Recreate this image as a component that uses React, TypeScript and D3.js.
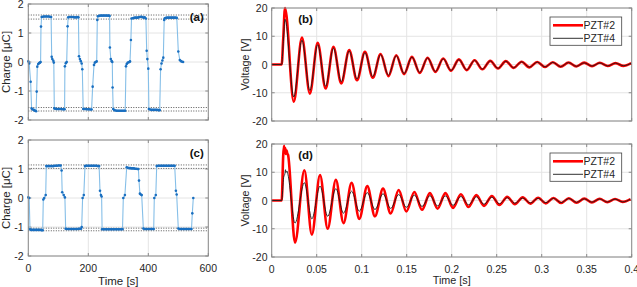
import React from "react";
import * as d3 from "d3";

const FONT = '"Liberation Sans", Arial, Helvetica, sans-serif';

// ---- charge data (time [s], charge [uC]) ----
const chargeA: [number, number][] = [
  [0, 0.02], [3, -0.05], [7.8, -0.68], [11, -1.6], [14, -1.63], [17, -1.65], [20, -1.66], [23, -1.68], [26, -1.7],
  [28, -1.02], [30, -0.16], [33, -0.07], [36, -0.04], [39, -0.02], [41, 0], [42.3, 1.22], [44.5, 1.55], [48, 1.56],
  [52, 1.57], [56, 1.57], [60, 1.57], [64, 1.57], [68, 1.57], [72, 1.56], [76, 1.55], [78, 0.18], [80, 0.1],
  [83.5, 0.04], [85, -0.02], [86.7, -1.6], [90, -1.61], [94, -1.62], [98, -1.62], [102, -1.62], [106, -1.62],
  [110, -1.62], [114, -1.63], [118, -1.63], [121, -1.63], [122, -0.15], [125, -0.04], [128, 0], [131, 1.23],
  [133, 1.54], [137, 1.55], [141, 1.55], [145, 1.55], [149, 1.55], [153, 1.54], [157, 1.54], [161, 1.54], [165, 1.55],
  [167, 1.54], [169, 0.2], [172, 0.1], [175, 0.03], [178, -0.05], [180, -0.25], [183, -1.62], [187, -1.62],
  [191, -1.62], [195, -1.63], [199, -1.63], [203, -1.63], [207, -1.64], [211, -1.64], [214.5, -0.85], [219, -0.1],
  [222, -0.02], [225, 0], [228, 0.02], [230, 1.45], [232, 1.58], [236, 1.59], [240, 1.6], [244, 1.6], [248, 1.6],
  [252, 1.6], [256, 1.6], [260, 1.6], [264, 1.6], [268, 1.6], [271, 1.59], [272, 0.5], [275, 0.1], [278, 0.03],
  [280, 0], [281, -0.88], [283, -1.62], [287, -1.66], [291, -1.67], [295, -1.68], [299, -1.68], [303, -1.68],
  [307, -1.68], [311, -1.68], [315, -1.68], [319, -1.68], [323, -1.68], [325.6, -0.15], [328, -0.07], [331, -0.03],
  [334, -0.01], [337, 0], [339, 0.02], [342, 0.76], [344, 1.5], [348, 1.51], [352, 1.52], [356, 1.53], [360, 1.53],
  [364, 1.53], [368, 1.54], [372, 1.55], [376, 1.56], [380, 1.55], [384, 1.53], [388, 1.54], [392, 1.5],
  [394.6, 0.39], [396.8, 0.1], [400, -0.23], [402, -1.62], [406, -1.64], [410, -1.65], [414, -1.65], [418, -1.65],
  [422, -1.65], [426, -1.65], [430, -1.65], [434, -1.66], [438, -1.66], [441, -0.25], [444, -0.05], [447, 0.05],
  [450, 0.15], [453, 1.45], [455, 1.51], [459, 1.52], [463, 1.53], [467, 1.53], [471, 1.53], [475, 1.53],
  [479, 1.53], [483, 1.53], [487, 1.53], [491, 1.53], [495, 1.52], [500, 0.36], [505, 0.07], [509, 0.03],
  [513, 0.01], [516, 0],
];

const chargeC: [number, number][] = [
  [0, 0.02], [3, 0], [5.6, -1.08], [9, -1.1], [13, -1.1], [17, -1.1], [21, -1.1], [25, -1.1], [29, -1.1], [33, -1.1],
  [37, -1.1], [41, -1.1], [45, -1.11], [48, -1.11], [50, -0.05], [53, 0], [58, 0.1], [60, 1.1], [64, 1.1], [68, 1.1],
  [72, 1.1], [76, 1.1], [80, 1.1], [84, 1.1], [88, 1.11], [92, 1.11], [96, 1.11], [100, 1.12], [104, 1.12],
  [108, 1.12], [111, 0.95], [113, 0.2], [118, 0.1], [122, 0.02], [124.5, -1.06], [128, -1.07], [132, -1.07],
  [136, -1.07], [140, -1.07], [144, -1.07], [148, -1.07], [152, -1.07], [156, -1.07], [160, -1.07], [164, -1.07],
  [168, -1.06], [172, -1.06], [176, -1.06], [178, -1.0], [181, 0], [185, 0.1], [189, 1.1], [192, 1.11], [196, 1.11],
  [200, 1.11], [204, 1.11], [208, 1.11], [212, 1.11], [216, 1.11], [220, 1.11], [224, 1.11], [228, 1.11], [232, 1.1],
  [236, 1.1], [239, 0.25], [242, 0.1], [244.4, 0.05], [246, -1.08], [250, -1.08], [254, -1.08], [258, -1.08],
  [262, -1.08], [266, -1.08], [270, -1.08], [274, -1.08], [278, -1.08], [282, -1.08], [286, -1.08], [290, -1.08],
  [294, -1.08], [298, -1.08], [302, -1.08], [306, -1.08], [310, -1.08], [314, -1.08], [316.7, 0], [322, 0.1],
  [328, 1.06], [332, 1.04], [336, 1.03], [340, 1.03], [344, 1.02], [348, 1.02], [352, 1.02], [356, 1.01], [360, 1.01],
  [364, 1.0], [367, 1.0], [369, 0.6], [372, 0.15], [375, 0.12], [378, 0.1], [383.5, -1.05], [387, -1.07],
  [391, -1.07], [395, -1.07], [399, -1.07], [403, -1.07], [407, -1.07], [411, -1.07], [415, -1.07], [418, -1.07],
  [420, 0], [425, 0.1], [428, 1.1], [432, 1.11], [436, 1.11], [440, 1.11], [444, 1.11], [448, 1.11], [452, 1.11],
  [456, 1.11], [460, 1.11], [464, 1.11], [468, 1.11], [472, 1.11], [476, 1.11], [480, 1.11], [484, 1.11],
  [488, 1.11], [492, 0.25], [494.6, 0.12], [500, -1.05], [504, -1.07], [508, -1.07], [512, -1.07], [516, -1.07],
  [520, -1.07], [524, -1.07], [528, -1.07], [532, -1.07], [536, -1.07], [540, -1.07], [544, -1.07],
  [546.7, -0.53], [550, 0],
];

const levelsA = [1.62, 1.48, -1.57, -1.69];
const levelsC = [1.14, 1.02, -1.04, -1.13];

// ---- voltage data: lead-in points, then alternating peak/trough times and values ----
const leadB: [number, number][] = [[0, 0], [0.0111, 0], [0.0128, 9]];
const leadBblack: [number, number][] = [[0, 0], [0.0111, 0], [0.0128, 7.5]];
const extTimesB = [
  0.0148, 0.0245, 0.0336, 0.0424, 0.0511, 0.0599, 0.0686, 0.0773, 0.0861, 0.0948, 0.1036, 0.1123, 0.121, 0.1297,
  0.1384, 0.1471, 0.1558, 0.1645, 0.1732, 0.1819, 0.1906, 0.1993, 0.208, 0.2167, 0.2254, 0.2341, 0.2428, 0.2515,
  0.2602, 0.2689, 0.2776, 0.2863, 0.295, 0.3037, 0.3124, 0.3211, 0.3298, 0.3385, 0.3472, 0.3559, 0.3646, 0.3733,
  0.382, 0.3907, 0.3994,
];
const pzt2B = [
  20, -13.2, 9.5, -10.3, 7.7, -8.5, 6.3, -6.7, 5.1, -5.6, 4.5, -4.7, 3.7, -4.1, 3.3, -3.4, 2.7, -3.0, 2.4, -2.6,
  2.1, -2.2, 1.8, -2.0, 1.5, -1.7, 1.3, -1.4, 1.2, -1.2, 1.0, -1.0, 0.9, -0.9, 0.8, -0.8, 0.7, -0.7, 0.65, -0.6,
  0.6, -0.55, 0.5, -0.5, 0.5,
];
const pzt4B = [
  16, -11.5, 8.6, -9.2, 7.0, -7.7, 5.8, -6.1, 4.8, -5.1, 4.2, -4.3, 3.5, -3.8, 3.1, -3.2, 2.6, -2.8, 2.3, -2.5,
  2.0, -2.1, 1.7, -1.9, 1.45, -1.6, 1.25, -1.35, 1.15, -1.15, 0.95, -0.95, 0.85, -0.85, 0.75, -0.75, 0.7, -0.65,
  0.6, -0.55, 0.55, -0.5, 0.5, -0.45, 0.45,
];

const leadDred: [number, number][] = [
  [0, 0], [0.0111, 0], [0.0128, 16], [0.0137, 19.4], [0.0143, 16.8], [0.015, 18.6], [0.0157, 16.5],
  [0.0165, 17.8], [0.0173, 16.6], [0.0181, 16.2],
];
const leadDblack: [number, number][] = [
  [0, 0], [0.0111, 0], [0.0133, 8.2], [0.0147, 9.6], [0.0153, 10.9], [0.0158, 9.9], [0.017, 10.4], [0.018, 9.3],
];
const extTimesD = [
  0.0259, 0.0363, 0.0446, 0.0537, 0.0622, 0.0713, 0.0798, 0.0888, 0.0973, 0.1062, 0.1147, 0.1237, 0.1322, 0.1411,
  0.1496, 0.1585, 0.167, 0.1758, 0.1843, 0.193, 0.2015, 0.2102, 0.2187, 0.2274, 0.2359, 0.2446, 0.2531, 0.2617,
  0.2702, 0.2789, 0.2874, 0.296, 0.3045, 0.3131, 0.3216, 0.3302, 0.3387, 0.3473, 0.3558, 0.3644, 0.3729, 0.3815,
  0.39, 0.3986,
];
const pzt2D = [
  -14.9, 10.7, -12.1, 9.0, -10.0, 7.3, -8.0, 6.3, -6.5, 5.1, -5.6, 4.2, -4.6, 3.7, -3.9, 3.0, -3.3, 2.6, -2.9,
  2.6, -2.6, 2.2, -2.3, 1.9, -1.9, 1.6, -1.6, 1.3, -1.3, 1.1, -1.1, 1.0, -1.0, 0.9, -0.9, 0.8, -0.8, 0.7, -0.7,
  0.6, -0.6, 0.55, -0.5, 0.5,
];
const pzt4D = [
  -8.0, 6.3, -6.5, 5.1, -5.6, 4.2, -4.5, 3.3, -3.8, 2.8, -3.2, 2.4, -2.8, 2.1, -2.4, 1.9, -2.1, 1.7, -1.9,
  1.6, -1.7, 1.4, -1.5, 1.3, -1.3, 1.15, -1.15, 1.0, -1.0, 0.9, -0.9, 0.8, -0.8, 0.75, -0.75, 0.7, -0.65, 0.6,
  -0.6, 0.55, -0.55, 0.5, -0.5, 0.45,
];

const chargeTicks = [-2, -1, 0, 1, 2];
const timeTicksSlow = [0, 200, 400, 600];
const voltTicks = [-20, -10, 0, 10, 20];
const timeTicksFast = [0, 0.05, 0.1, 0.15, 0.2, 0.25, 0.3, 0.35, 0.4];
const legendNames = ["PZT#2", "PZT#4"];

const BOX = "#8a8a8a";
const GRID = "#e4e4e4";
const TEXT = "#262626";

const series = (lead: [number, number][], t: number[], v: number[]) =>
  lead.concat(t.map((tt, i) => [tt, v[i]] as [number, number]));

interface FrameProps {
  x: d3.ScaleLinear<number, number>;
  y: d3.ScaleLinear<number, number>;
  xTicks: number[];
  yTicks: number[];
  showXLabels: boolean;
  yLabelRight: number;
  fontSize: number;
}

const Frame = ({ x, y, xTicks, yTicks, showXLabels, yLabelRight, fontSize }: FrameProps) => {
  const [x0, x1] = x.range();
  const [y0, y1] = y.range(); // y0 bottom, y1 top
  return (
    <g>
      {xTicks.map((t) => (
        <line key={"gx" + t} x1={x(t)} x2={x(t)} y1={y0} y2={y1} stroke={GRID} />
      ))}
      {yTicks.map((t) => (
        <line key={"gy" + t} x1={x0} x2={x1} y1={y(t)} y2={y(t)} stroke={GRID} />
      ))}
      {xTicks.map((t) => (
        <g key={"tx" + t}>
          <line x1={x(t)} x2={x(t)} y1={y0} y2={y0 - 3} stroke={BOX} />
          <line x1={x(t)} x2={x(t)} y1={y1} y2={y1 + 3} stroke={BOX} />
          {showXLabels && (
            <text x={x(t)} y={y0 + 12} textAnchor="middle" dominantBaseline="central" fontSize={fontSize} fill={TEXT}>
              {String(t)}
            </text>
          )}
        </g>
      ))}
      {yTicks.map((t) => (
        <g key={"ty" + t}>
          <line x1={x0} x2={x0 + 3} y1={y(t)} y2={y(t)} stroke={BOX} />
          <line x1={x1} x2={x1 - 3} y1={y(t)} y2={y(t)} stroke={BOX} />
          <text x={yLabelRight} y={y(t)} textAnchor="end" dominantBaseline="central" fontSize={fontSize} fill={TEXT}>
            {String(t)}
          </text>
        </g>
      ))}
    </g>
  );
};

const Box = ({ x, y }: { x: d3.ScaleLinear<number, number>; y: d3.ScaleLinear<number, number> }) => {
  const [x0, x1] = x.range();
  const [y0, y1] = y.range();
  return <rect x={x0} y={y1} width={x1 - x0} height={y0 - y1} fill="none" stroke={BOX} />;
};

interface ChargeProps {
  data: [number, number][];
  levels: number[];
  top: number;
  bottom: number;
  label: string;
  showX: boolean;
}

const ChargePanel = ({ data, levels, top, bottom, label, showX }: ChargeProps) => {
  const x = d3.scaleLinear().domain([0, 600]).range([28.3, 208.3]);
  const y = d3.scaleLinear().domain([-2, 2]).range([bottom, top]);
  const line = d3.line<[number, number]>().x((d) => x(d[0])).y((d) => y(d[1]));
  return (
    <g>
      <Frame x={x} y={y} xTicks={timeTicksSlow} yTicks={chargeTicks} showXLabels={showX} yLabelRight={23.5} fontSize={10.5} />
      {levels.map((l) => (
        <line key={l} x1={x(0)} x2={x(600)} y1={y(l)} y2={y(l)} stroke="#555" strokeDasharray="1,1.5" />
      ))}
      <path d={line(data) || ""} fill="none" stroke="#86bfe8" strokeWidth={1.1} />
      {data.map((d, i) => (
        <circle key={i} cx={x(d[0])} cy={y(d[1])} r={1.3} fill="#1a6fc0" />
      ))}
      <Box x={x} y={y} />
      <text x={196.7} y={top + 12.5} textAnchor="middle" dominantBaseline="central" fontSize={11.5} fontWeight="bold" fill="#111">
        {label}
      </text>
      <text
        transform={`translate(6,${(top + bottom) / 2}) rotate(-90)`}
        textAnchor="middle"
        dominantBaseline="central"
        fontSize={11.5}
        fill={TEXT}
      >
        Charge [μC]
      </text>
      {showX && (
        <text x={(x(0) + x(600)) / 2} y={bottom + 25} textAnchor="middle" dominantBaseline="central" fontSize={11.5} fill={TEXT}>
          Time [s]
        </text>
      )}
    </g>
  );
};

interface VoltProps {
  red: [number, number][];
  black: [number, number][];
  top: number;
  bottom: number;
  label: string;
  showX: boolean;
}

const VoltagePanel = ({ red, black, top, bottom, label, showX }: VoltProps) => {
  const x = d3.scaleLinear().domain([0, 0.4]).range([271.7, 631.7]);
  const y = d3.scaleLinear().domain([-20, 20]).range([bottom, top]);
  const line = d3
    .line<[number, number]>()
    .x((d) => x(d[0]))
    .y((d) => y(d[1]))
    .curve(d3.curveMonotoneX);
  const lx = 550;
  const ly = top + 9;
  return (
    <g>
      <Frame x={x} y={y} xTicks={timeTicksFast} yTicks={voltTicks} showXLabels={showX} yLabelRight={267.5} fontSize={10.5} />
      <path d={line(red) || ""} fill="none" stroke="#ff0000" strokeWidth={2.6} strokeLinejoin="round" />
      <path d={line(black) || ""} fill="none" stroke="#1a1a1a" strokeWidth={0.9} />
      <Box x={x} y={y} />
      <text x={305.5} y={top + 10.5} textAnchor="middle" dominantBaseline="central" fontSize={11.5} fontWeight="bold" fill="#111">
        {label}
      </text>
      <text
        transform={`translate(245.3,${(top + bottom) / 2}) rotate(-90)`}
        textAnchor="middle"
        dominantBaseline="central"
        fontSize={10.8}
        fill={TEXT}
      >
        Voltage [V]
      </text>
      {showX && (
        <text x={(x(0) + x(0.4)) / 2} y={bottom + 22.5} textAnchor="middle" dominantBaseline="central" fontSize={10.8} fill={TEXT}>
          Time [s]
        </text>
      )}
      <rect x={lx} y={ly} width={71.7} height={28.3} fill="#fff" stroke="#444" strokeWidth={0.8} />
      <line x1={lx + 3} x2={lx + 33} y1={ly + 8.3} y2={ly + 8.3} stroke="#ff0000" strokeWidth={2.6} />
      <line x1={lx + 3} x2={lx + 33} y1={ly + 21.3} y2={ly + 21.3} stroke="#1a1a1a" strokeWidth={0.9} />
      {legendNames.map((n, i) => (
        <text key={n} x={lx + 33.5} y={ly + 8.3 + i * 13} dominantBaseline="central" fontSize={10.5} fill={TEXT}>
          {n}
        </text>
      ))}
    </g>
  );
};

export default function App() {
  return (
    <svg
      width={637}
      height={287}
      style={{ position: "absolute", left: 0, top: 0, background: "#fff", fontFamily: FONT }}
    >
      <ChargePanel data={chargeA} levels={levelsA} top={4} bottom={120} label="(a)" showX={false} />
      <ChargePanel data={chargeC} levels={levelsC} top={140} bottom={256} label="(c)" showX={true} />
      <VoltagePanel
        red={series(leadB, extTimesB, pzt2B)}
        black={series(leadBblack, extTimesB, pzt4B)}
        top={8}
        bottom={121}
        label="(b)"
        showX={false}
      />
      <VoltagePanel
        red={series(leadDred, extTimesD, pzt2D)}
        black={series(leadDblack, extTimesD, pzt4D)}
        top={144}
        bottom={257}
        label="(d)"
        showX={true}
      />
    </svg>
  );
}
